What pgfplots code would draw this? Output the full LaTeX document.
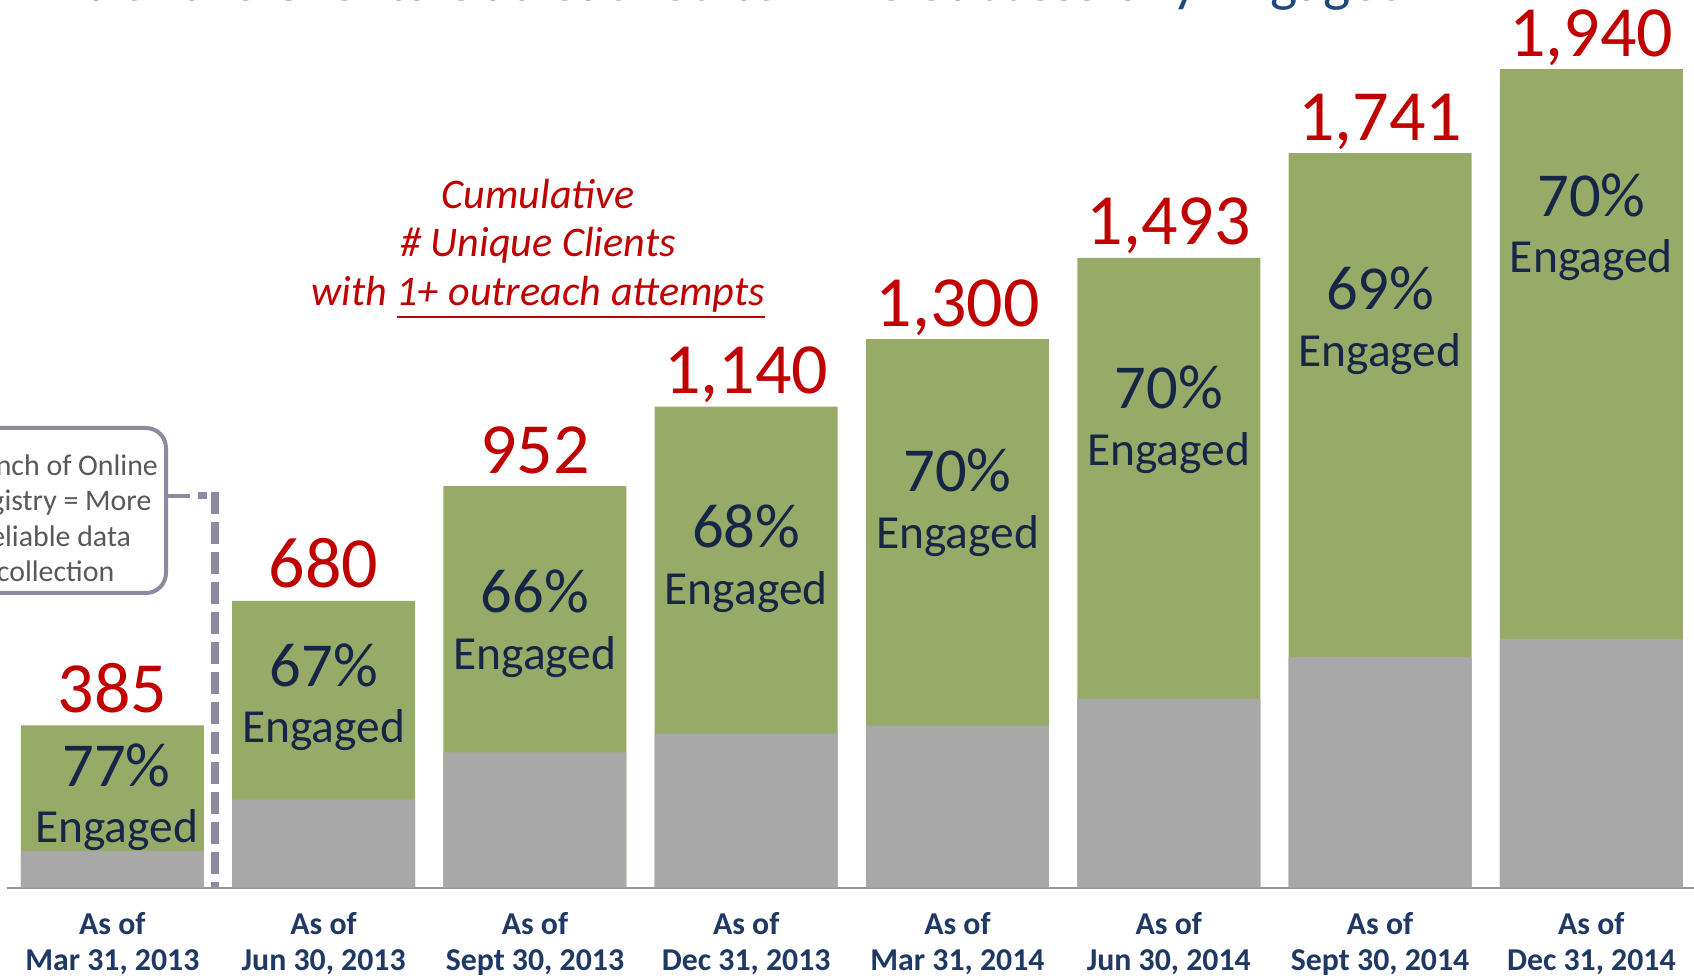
\documentclass[border=0pt]{standalone}
\usepackage{pgfplots}
\pgfplotsset{compat=1.18}
\usepackage{pgfplotstable}
\usepackage{fontspec}
\setmainfont{Carlito}
\definecolor{barGreen}{RGB}{152,170,104}
\definecolor{barGray}{RGB}{168,168,168}
\definecolor{numRed}{RGB}{192,0,0}
\definecolor{labNavy}{RGB}{22,38,70}
\definecolor{tickNavy}{RGB}{31,56,100}
\definecolor{titleBlue}{RGB}{31,73,125}
\definecolor{callGray}{RGB}{140,138,160}
\definecolor{callText}{RGB}{89,89,89}
\definecolor{axisGray}{RGB}{150,150,150}

\pgfplotstableread{
x gray total
0 87  385
1 209 680
2 321 952
3 365 1140
4 384 1300
5 448 1493
6 547 1741
7 589 1940
}\datatable

\tikzset{pct/.style={anchor=base, font=\fontsize{17.8}{21}\selectfont, text=labNavy, inner sep=0pt},
         eng/.style={anchor=base, font=\fontsize{13.5}{16}\selectfont, text=labNavy, inner sep=0pt},
         redit/.style={anchor=base, font=\fontsize{12}{14}\selectfont\itshape, text=numRed, inner sep=0pt}}

\begin{document}
\begin{tikzpicture}
\path[use as bounding box] (0,0) rectangle (16.94,9.76);
\clip (0,0) rectangle (16.94,9.76);
\node[anchor=base, font=\fontsize{16.4}{19}\selectfont, text=titleBlue, inner sep=0pt] at (7.375,9.756) {\% of the Clients Outreached to Who Successfully Engaged};
\begin{axis}[
  at={(0.067cm,0.883cm)}, anchor=south west, scale only axis,
  width=16.903cm, height=8.877cm,
  xmin=-0.5, xmax=7.5, ymin=0, ymax=2104,
  ybar, bar width=0.866, bar shift=0pt,
  axis x line*=bottom, axis y line=none,
  x axis line style={axisGray, line width=0.02cm, -},
  ytick=\empty,
  xtick={0,...,7}, major tick length=0pt,
  xticklabels={{As of\\Mar 31, 2013},{As of\\Jun 30, 2013},{As of\\Sept 30, 2013},{As of\\Dec 31, 2013},{As of\\Mar 31, 2014},{As of\\Jun 30, 2014},{As of\\Sept 30, 2014},{As of\\Dec 31, 2014}},
  xticklabel style={align=center, font=\fontsize{9.05}{10.2}\selectfont\bfseries, text=tickNavy, anchor=north, yshift=-0.12cm},
  /pgf/number format/assume math mode=true,
  clip=false,
]
% total clients (green = engaged share on top of the grey part)
\addplot[fill=barGreen, draw=none,
  nodes near coords={\pgfmathprintnumber[fixed,precision=0,1000 sep={,}]{\pgfplotspointmeta}},
  nodes near coords style={anchor=base, yshift=0.13cm, font=\fontsize{20.5}{24}\selectfont, text=numRed, inner sep=0pt}]
  table[x=x,y=total]{\datatable};
% not engaged part
\addplot[fill=barGray, draw=none] table[x=x,y=gray]{\datatable};

\node[pct] at (axis cs:0.02,240) {77\%};
\node[pct] at (axis cs:1,478) {67\%};
\node[pct] at (axis cs:2,652) {66\%};
\node[pct] at (axis cs:3,806) {68\%};
\node[pct] at (axis cs:4,939) {70\%};
\node[pct] at (axis cs:5,1136) {70\%};
\node[pct] at (axis cs:6,1371) {69\%};
\node[pct] at (axis cs:7,1591) {70\%};
\node[eng] at (axis cs:0.02,107) {Engaged};
\node[eng] at (axis cs:1,343) {Engaged};
\node[eng] at (axis cs:2,517) {Engaged};
\node[eng] at (axis cs:3,671) {Engaged};
\node[eng] at (axis cs:4,804) {Engaged};
\node[eng] at (axis cs:5,1001) {Engaged};
\node[eng] at (axis cs:6,1236) {Engaged};
\node[eng] at (axis cs:7,1459) {Engaged};
\end{axis}

% annotation text
\node[redit] at (5.38,7.676) {Cumulative};
\node[redit] at (5.38,7.19) {\# Unique Clients};
\node[redit] at (5.38,6.706) {with \underline{1+ outreach attempts}};

% callout
\draw[rounded corners=0.2cm, line width=0.04cm, draw=callGray, fill=white] (-0.55,3.83) rectangle (1.66,5.48);
\node[align=center, font=\fontsize{8.5}{10.1}\selectfont, text=callText] at (0.556,4.58) {Launch of Online\\Registry = More\\reliable data\\collection};
\draw[line width=0.04cm, callGray] (1.66,4.80) -- (1.90,4.80);
\draw[line width=0.07cm, callGray, dash pattern=on 0.09cm off 0.08cm] (1.98,4.80) -- (2.15,4.80);
\draw[line width=0.075cm, callGray, dash pattern=on 0.22cm off 0.08cm] (2.15,4.84) -- (2.15,0.89);
\end{tikzpicture}
\end{document}
